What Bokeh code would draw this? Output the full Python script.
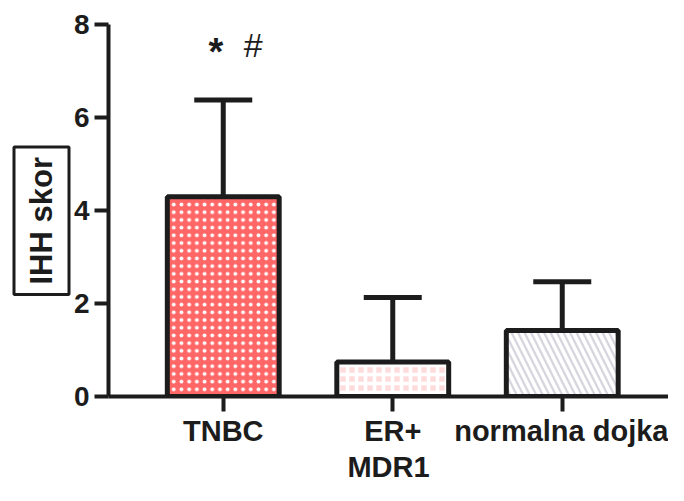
from bokeh.plotting import figure
from bokeh.models import (ColumnDataSource, Range1d, FixedTicker, Label, Whisker, TeeHead, Title)
from bokeh.embed import file_html
from bokeh.resources import INLINE

# ---- data ----
categories = ["TNBC", "ER+", "normalna dojka"]
means = [4.30, 0.74, 1.42]
sd_upper = [6.38, 2.13, 2.47]
fills = ["#ff6666", "#ffdcdc", "#d6d6de"]
y_ticks = [0, 2, 4, 6, 8]
y_label = "IHH skor"
x_label = "MDR1"
annot_star = "*"
annot_hash = "#"

DARK = "#1c1c1c"
FONT = "Liberation Sans"

xs = list(range(len(categories)))
src = ColumnDataSource(dict(x=xs, top=means, upper=sd_upper))

W, H = 668, 485
FRAME_L, FRAME_T, FRAME_B = 108, 2, 400
PX_PER_CAT = 169.5
x0 = -0.677
p = figure(width=W, height=H, output_backend="svg", toolbar_location=None,
           x_range=Range1d(x0, x0 + (W - FRAME_L) / PX_PER_CAT),
           y_range=Range1d(0, 8 * (FRAME_B - FRAME_T) / (FRAME_B - 24.5)),
           min_border_left=FRAME_L, min_border_right=0, min_border_top=FRAME_T,
           min_border_bottom=H - FRAME_B)
p.outline_line_color = None
p.xgrid.visible = False
p.ygrid.visible = False
p.background_fill_color = "white"
p.border_fill_color = "white"

hatch_cfg = [
    dict(hatch_pattern="dot", hatch_color="white", hatch_scale=7.7, hatch_weight=2),
    dict(hatch_pattern="cross", hatch_color="white", hatch_scale=9, hatch_weight=3.5),
    dict(hatch_pattern="left_diagonal_line", hatch_color="white", hatch_scale=13, hatch_weight=3.5),
]
for i in xs:
    s = ColumnDataSource(dict(x=[xs[i]], top=[means[i]]))
    p.vbar(x="x", top="top", bottom=0, width=0.66, source=s, fill_color=fills[i],
           line_color=DARK, line_width=5, **hatch_cfg[i])

# error bars (upper only)
w = Whisker(source=src, base="x", lower="top", upper="upper", dimension="height",
            line_color=DARK, line_width=5,
            upper_head=TeeHead(size=58, line_color=DARK, line_width=5), lower_head=None)
p.add_layout(w)

# axes
xa = p.xaxis[0]
xa.ticker = FixedTicker(ticks=xs)
xa.major_label_overrides = {i: c for i, c in zip(xs, categories)}
xa.minor_tick_line_color = None
xa.major_tick_in = 0
xa.major_tick_out = 15
xa.major_tick_line_width = 4
xa.major_tick_line_color = DARK
xa.axis_line_width = 4
xa.axis_line_color = DARK
xa.major_label_text_font = FONT
xa.major_label_text_font_style = "bold"
xa.major_label_text_font_size = "29px"
xa.major_label_text_color = DARK
xa.major_label_standoff = 3
xa.axis_label = x_label
xa.axis_label_text_font = FONT
xa.axis_label_text_font_style = "bold"
xa.axis_label_text_font_size = "29px"
xa.axis_label_text_color = DARK
xa.axis_label_standoff = 1

ya = p.yaxis[0]
ya.ticker = FixedTicker(ticks=y_ticks)
ya.bounds = (0, 8)
ya.minor_tick_line_color = None
ya.major_tick_in = 0
ya.major_tick_out = 14
ya.major_tick_line_width = 4
ya.major_tick_line_color = DARK
ya.axis_line_width = 4
ya.axis_line_color = DARK
ya.major_label_text_font = FONT
ya.major_label_text_font_style = "bold"
ya.major_label_text_font_size = "28px"
ya.major_label_text_color = DARK
ya.major_label_standoff = 5

# boxed y-axis label as a left-side title
t = Title(text=y_label, align="left", offset=102, text_font=FONT, text_font_style="bold",
          text_font_size="31px", text_color=DARK, standoff=3,
          border_line_color=DARK, border_line_width=3, padding=10,
          background_fill_color="white")
p.add_layout(t, "left")

# significance marks
p.add_layout(Label(x=-0.043, y=7.41, text=annot_star, text_align="center",
                   text_baseline="alphabetic", text_font=FONT, text_font_style="bold",
                   text_font_size="38px", text_color=DARK))
p.add_layout(Label(x=0.176, y=7.556, text=annot_hash, text_align="center",
                   text_baseline="alphabetic", text_font=FONT,
                   text_font_size="34px", text_color=DARK))

open("out.html", "w").write(file_html(p, INLINE))
